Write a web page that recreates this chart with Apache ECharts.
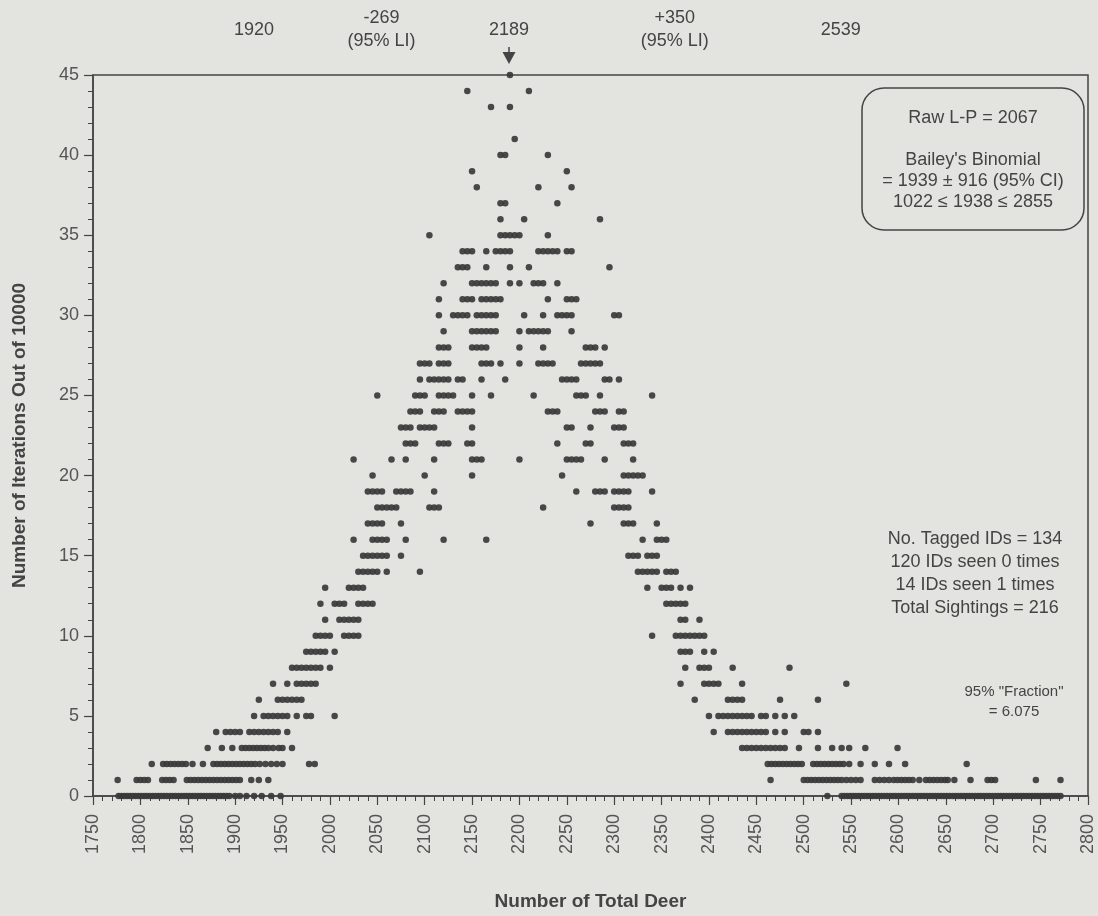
<!DOCTYPE html>
<html>
<head>
<meta charset="utf-8">
<script src="https://cdn.jsdelivr.net/npm/echarts@6/dist/echarts.min.js"></script>
<style>
  html, body { margin: 0; padding: 0; background: #e3e4df; }
  #chart { width: 1098px; height: 916px; }
</style>
</head>
<body>
<div id="chart"></div>
<script>
// Simulated population totals: for each iteration count, the totals that occurred that often
const rows = [
  [0, [1777,1780,1783,1786,1789,1792,1795,1798,1801,1804,1807,1810,1813,1816,1819,1822,1825,1828,1831,1834,1837,1840,1843,1846,1849,1852,1855,1858,1861,1864,1867,1870,1873,1876,1879,1882,1885,1888,1891,1894,1900,1905,1912,1920,1928,1938,1948,
       2525,2540,2543,2546,2549,2552,2555,2558,2561,2564,2567,2570,2573,2576,2579,2582,2585,2588,2591,2594,2597,2600,2603,2606,2609,2612,2615,2618,2621,2624,2627,2630,2633,2636,2639,2642,2645,2648,2651,2654,2657,2660,2663,2666,2669,2672,2675,2678,2681,2684,2687,2690,2693,2696,2699,2702,2705,2708,2711,2714,2717,2720,2723,2726,2729,2732,2735,2738,2741,2744,2747,2750,2753,2756,2759,2762,2765,2768,2771]],
  [1, [1776,1796,1800,1804,1808,1823,1827,1831,1835,1849,1853,1857,1861,1865,1869,1873,1877,1881,1885,1889,1893,1897,1901,1905,1917,1925,1935,
       2465,2500,2504,2508,2512,2516,2520,2524,2528,2532,2536,2540,2545,2550,2555,2560,2575,2580,2585,2590,2595,2599,2603,2607,2611,2615,2622,2629,2633,2637,2641,2645,2649,2652,2659,2676,2694,2698,2702,2745,2771]],
  [2, [1812,1824,1828,1832,1836,1840,1844,1848,1855,1866,1877,1881,1885,1889,1893,1897,1901,1905,1909,1913,1917,1921,1926,1932,1938,1944,1950,1978,1984,
       2462,2466,2470,2474,2478,2482,2486,2490,2494,2498,2510,2514,2518,2522,2526,2530,2534,2538,2542,2548,2560,2575,2590,2607,2672]],
  [3, [1871,1886,1897,1907,1911,1915,1919,1923,1927,1931,1935,1940,1946,1950,1960,
       2435,2440,2445,2450,2455,2460,2465,2470,2475,2480,2495,2515,2530,2540,2548,2565,2599]],
  [4, [1880,1890,1895,1900,1905,1915,1920,1925,1930,1935,1940,1945,1955,
       2405,2420,2425,2430,2435,2440,2445,2450,2455,2460,2470,2480,2500,2505,2515]],
  [5, [1920,1930,1935,1940,1945,1950,1955,1965,1975,1980,2005,
       2400,2410,2415,2420,2425,2430,2435,2440,2445,2455,2460,2470,2480,2490]],
  [6, [1925,1945,1950,1955,1960,1965,1970, 2385,2420,2425,2430,2435,2475,2515]],
  [7, [1940,1955,1965,1970,1975,1980,1985, 2370,2395,2400,2405,2410,2435,2545]],
  [8, [1960,1965,1970,1975,1980,1985,1990,2000, 2375,2390,2395,2400,2425,2485]],
  [9, [1975,1980,1985,1990,1995,2005, 2370,2375,2380,2395,2405]],
  [10, [1985,1990,1995,2000,2015,2020,2025,2030, 2340,2365,2370,2375,2380,2385,2390,2395]],
  [11, [1995,2010,2015,2020,2025,2030, 2370,2375,2390]],
  [12, [1990,2005,2010,2015,2030,2035,2040,2045, 2355,2360,2365,2370,2375]],
  [13, [1995,2020,2025,2030,2035, 2335,2350,2355,2360,2370,2380]],
  [14, [2030,2035,2040,2045,2050,2060,2095, 2325,2330,2335,2340,2345,2355,2360,2365]],
  [15, [2035,2040,2045,2050,2055,2060,2075, 2315,2320,2325,2335,2340,2345]],
  [16, [2025,2045,2050,2055,2060,2080,2120,2165, 2330,2345,2350,2355]],
  [17, [2040,2045,2050,2055,2075, 2275,2310,2315,2320,2345]],
  [18, [2050,2055,2060,2065,2070,2105,2110,2115, 2225,2300,2305,2310,2315]],
  [19, [2040,2045,2050,2055,2070,2075,2080,2085,2110, 2260,2280,2285,2290,2300,2305,2310,2315,2340]],
  [20, [2045,2100,2150, 2245,2310,2315,2320,2325,2330]],
  [21, [2025,2065,2080,2110,2150,2155,2160, 2200,2250,2255,2260,2265,2290,2320]],
  [22, [2080,2085,2090,2115,2120,2125,2145,2150, 2240,2270,2275,2310,2315,2320]],
  [23, [2075,2080,2085,2095,2100,2105,2110,2150, 2250,2255,2275,2300,2305,2310]],
  [24, [2085,2090,2095,2110,2115,2120,2135,2140,2145,2150, 2230,2235,2240,2280,2285,2290,2305,2310]],
  [25, [2050,2090,2095,2100,2115,2120,2125,2130,2150,2170, 2215,2260,2265,2270,2285,2340]],
  [26, [2095,2105,2110,2115,2120,2125,2135,2140,2160,2185, 2245,2250,2255,2260,2290,2295,2305]],
  [27, [2095,2100,2105,2115,2120,2125,2160,2165,2170,2180,2200, 2220,2225,2230,2235,2265,2270,2275,2280,2285]],
  [28, [2115,2120,2125,2150,2155,2160,2165,2200, 2225,2270,2275,2280,2290]],
  [29, [2120,2150,2155,2160,2165,2170,2175,2200, 2210,2215,2220,2225,2230,2255]],
  [30, [2115,2130,2135,2140,2145,2155,2160,2165,2170,2175,2205, 2225,2240,2245,2250,2255,2300,2305]],
  [31, [2115,2140,2145,2150,2160,2165,2170,2175,2180, 2230,2250,2255,2260]],
  [32, [2120,2150,2155,2160,2165,2170,2175,2190, 2200,2215,2220,2225,2240]],
  [33, [2135,2140,2145,2165,2190, 2210,2295]],
  [34, [2140,2145,2150,2165,2175,2180,2185,2190, 2220,2225,2230,2235,2240,2250,2255]],
  [35, [2105,2180,2185,2190,2195,2200, 2230]],
  [36, [2180,2205, 2285]],
  [37, [2180,2185, 2240]],
  [38, [2155, 2220,2255]],
  [39, [2150, 2250]],
  [40, [2180,2185, 2230]],
  [41, [2195]],
  [43, [2170,2190]],
  [44, [2145,2210]],
  [45, [2190]]
];

// Interval marks written above the plot
const topMarks = [
  { at: 1920, text: '1920' },
  { at: 2054.5, text: '-269\n(95% LI)' },
  { at: 2189, text: '2189' },
  { at: 2364, text: '+350\n(95% LI)' },
  { at: 2539, text: '2539' }
];
const modeValue = 2189;

const boxLines = ['Raw L-P = 2067', '', "Bailey's Binomial", '= 1939 \u00b1 916 (95% CI)', '1022 \u2264 1938 \u2264 2855'];
const infoLines = ['No. Tagged IDs = 134', '120 IDs seen 0 times', '14 IDs seen 1 times', 'Total Sightings = 216'];
const fractionLines = ['95% "Fraction"', '= 6.075'];

const points = [];
rows.forEach(([count, totals]) => totals.forEach(t => points.push([t, count])));

const FONT = '"Liberation Sans", Arial, Helvetica, sans-serif';
const INK = '#444';

const chart = echarts.init(document.getElementById('chart'), null, { renderer: 'canvas' });
chart.setOption({
  backgroundColor: '#e3e4df',
  animation: false,
  textStyle: { fontFamily: FONT },
  grid: { left: 93, right: 10, top: 75, bottom: 118, show: true, borderColor: INK, borderWidth: 1.5, backgroundColor: 'transparent' },
  xAxis: {
    type: 'value', min: 1750, max: 2800, interval: 50,
    name: 'Number of Total Deer', nameLocation: 'middle', nameGap: 96,
    nameTextStyle: { fontSize: 19, fontWeight: 'bold', color: INK, fontFamily: FONT },
    axisLine: { show: true, onZero: false, lineStyle: { color: INK, width: 1.5 } },
    axisTick: { show: true, length: 9, lineStyle: { color: INK, width: 1.2 } },
    minorTick: { show: true, splitNumber: 5, length: 5, lineStyle: { color: INK, width: 1 } },
    splitLine: { show: false },
    axisLabel: { rotate: 90, fontSize: 18, color: '#555', margin: 18, fontFamily: FONT, formatter: v => String(v) }
  },
  yAxis: {
    type: 'value', min: 0, max: 45, interval: 5,
    name: 'Number of Iterations Out of 10000', nameLocation: 'middle', nameGap: 64, nameRotate: 90,
    nameTextStyle: { fontSize: 19, fontWeight: 'bold', color: INK, fontFamily: FONT },
    axisLine: { show: true, lineStyle: { color: INK, width: 1.5 } },
    axisTick: { show: true, length: 9, lineStyle: { color: INK, width: 1.2 } },
    minorTick: { show: true, splitNumber: 5, length: 5, lineStyle: { color: INK, width: 1 } },
    splitLine: { show: false },
    axisLabel: { fontSize: 18, color: '#555', margin: 14, fontFamily: FONT }
  },
  series: [{
    type: 'scatter',
    data: points,
    symbol: 'circle',
    symbolSize: 6.5,
    itemStyle: { color: '#3a3a3a', opacity: 0.92 },
    silent: true
  }]
});

// Annotations placed through the axis scales
function px(x, y) { return chart.convertToPixel({ gridIndex: 0 }, [x, y]); }
const graphics = [];
topMarks.forEach(m => {
  const p = px(m.at, 45);
  graphics.push({
    type: 'text', x: p[0], y: 30,
    style: { text: m.text, font: '18px ' + FONT, fill: INK, align: 'center', verticalAlign: 'middle', lineHeight: 23 }
  });
});
const a = px(modeValue, 45);
graphics.push({ type: 'line', shape: { x1: a[0], y1: 47, x2: a[0], y2: 54 }, style: { stroke: INK, lineWidth: 1.5 } });
graphics.push({ type: 'polygon', shape: { points: [[a[0] - 6.5, 52], [a[0] + 6.5, 52], [a[0], 64]] }, style: { fill: INK } });

// Estimate box
graphics.push({ type: 'rect', shape: { x: 862, y: 88, width: 222, height: 142, r: 22 }, style: { fill: 'none', stroke: INK, lineWidth: 1.5 } });
graphics.push({
  type: 'text', x: 973, y: 160,
  style: { text: boxLines.join('\n'), font: '18px ' + FONT, fill: INK, align: 'center', verticalAlign: 'middle', lineHeight: 21 }
});
// Sighting summary
graphics.push({
  type: 'text', x: 975, y: 574,
  style: { text: infoLines.join('\n'), font: '18px ' + FONT, fill: INK, align: 'center', verticalAlign: 'middle', lineHeight: 23 }
});
graphics.push({
  type: 'text', x: 1014, y: 702,
  style: { text: fractionLines.join('\n'), font: '15px ' + FONT, fill: INK, align: 'center', verticalAlign: 'middle', lineHeight: 20 }
});
chart.setOption({ graphic: graphics });
</script>
</body>
</html>
